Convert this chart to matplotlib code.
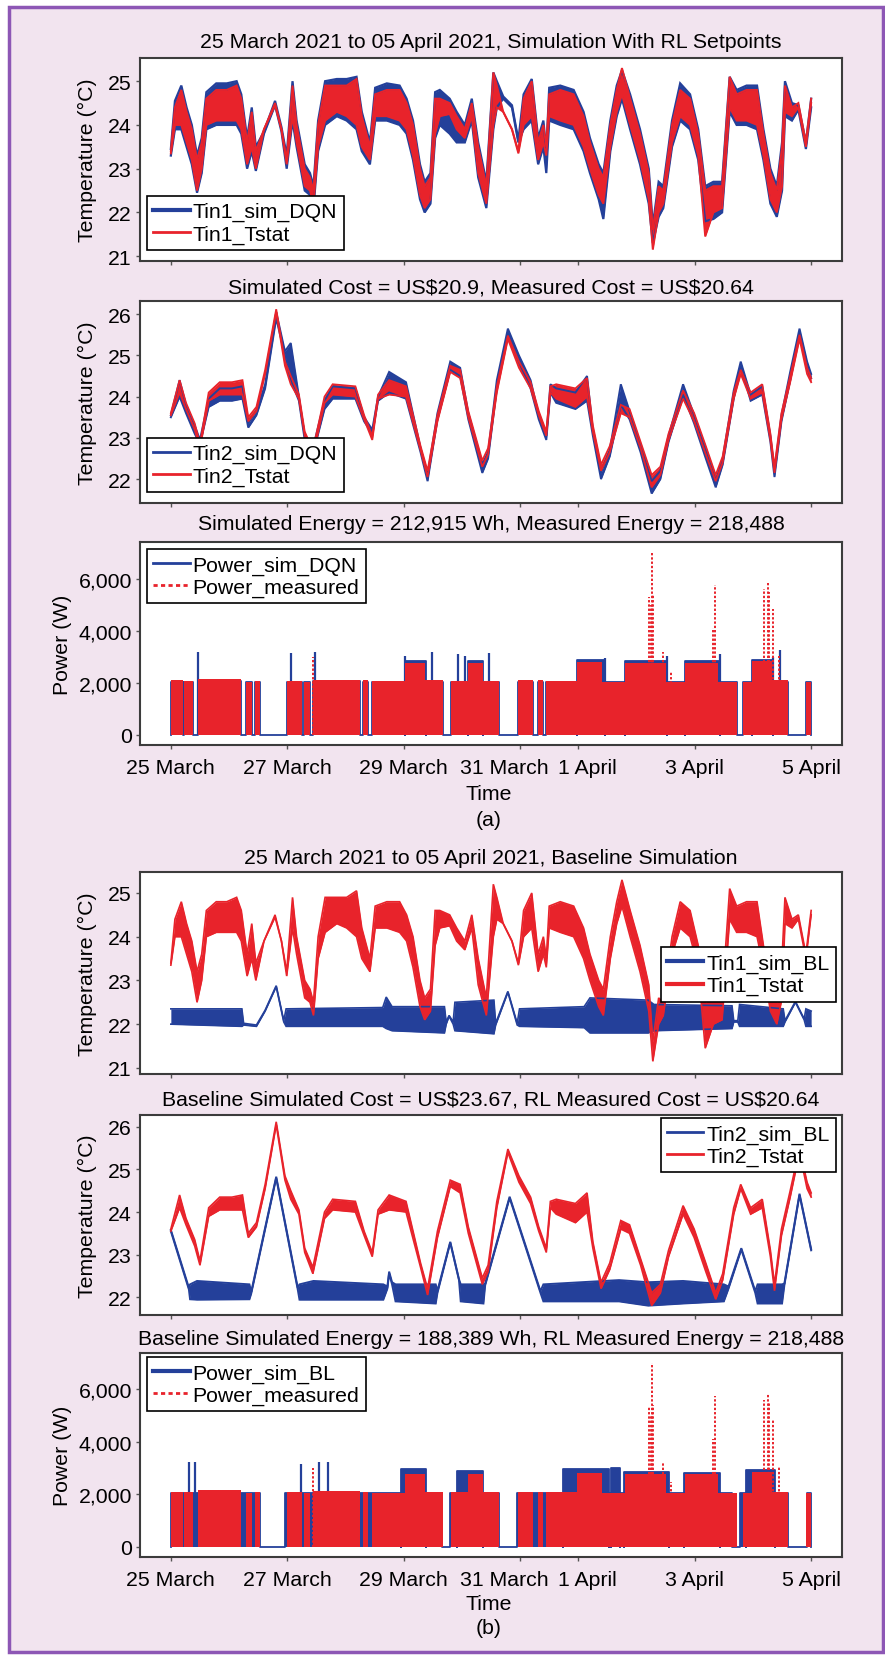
import numpy as np
import matplotlib
matplotlib.use("Agg")
import matplotlib.pyplot as plt
import matplotlib.transforms as mtransforms
from matplotlib.lines import Line2D
from matplotlib.patches import Rectangle

plt.rcParams["font.family"] = ["Liberation Sans", "DejaVu Sans"]
plt.rcParams["text.parse_math"] = False

BLUE = "#24409a"
RED = "#e8232b"
FS = 15.3

# time axis: days after 25 March 2021 00:00
tick_days = [0, 2, 4, 6, 7, 9, 11]
tick_labels = ["25 March", "27 March", "29 March", "31 March", "1 April", "3 April", "5 April"]

titles = [
    "25 March 2021 to 05 April 2021, Simulation With RL Setpoints",
    "Simulated Cost = US$20.9, Measured Cost = US$20.64",
    "Simulated Energy = 212,915 Wh, Measured Energy = 218,488",
    "25 March 2021 to 05 April 2021, Baseline Simulation",
    "Baseline Simulated Cost = US$23.67, RL Measured Cost = US$20.64",
    "Baseline Simulated Energy = 188,389 Wh, RL Measured Energy = 218,488",
]

# zone 1 temperature (envelope of the fast thermostat cycling, low / high)
t_tin1 = [0.00, 0.07, 0.18, 0.27, 0.36, 0.45, 0.53, 0.61, 0.78, 0.96,
          1.13, 1.21, 1.31, 1.39, 1.46, 1.60, 1.79, 1.90, 1.99, 2.09,
          2.16, 2.30, 2.39, 2.45, 2.53, 2.65, 2.85, 3.02, 3.19, 3.28,
          3.42, 3.51, 3.71, 3.93, 4.05, 4.16, 4.28, 4.36, 4.46, 4.54,
          4.62, 4.79, 4.91, 5.05, 5.17, 5.28, 5.42, 5.54, 5.60, 5.71,
          5.86, 5.97, 6.06, 6.20, 6.31, 6.40, 6.45, 6.50, 6.69, 6.92,
          7.09, 7.20, 7.35, 7.43, 7.55, 7.66, 7.75, 7.89, 8.06, 8.21,
          8.28, 8.38, 8.46, 8.61, 8.75, 8.92, 9.06, 9.18, 9.32, 9.47,
          9.60, 9.72, 9.89, 10.07, 10.18, 10.30, 10.41, 10.50, 10.55, 10.67,
          10.78, 10.91, 11.00]
tin1_tstat_lo = [23.35, 24.00, 24.00, 23.60, 23.20, 22.50, 23.00, 24.00, 24.10, 24.10,
                 24.10, 23.90, 23.10, 23.50, 23.00, 23.90, 24.45, 23.90, 23.10, 24.20,
                 23.60, 22.60, 22.50, 22.20, 23.50, 24.10, 24.30, 24.20, 24.00, 23.50,
                 23.20, 24.20, 24.20, 24.10, 23.90, 23.30, 22.40, 22.10, 22.30, 23.80,
                 24.20, 24.25, 23.90, 23.70, 24.20, 22.90, 22.20, 24.00, 24.40, 24.30,
                 23.90, 23.35, 24.00, 24.20, 23.20, 23.60, 23.30, 24.20, 24.10, 24.00,
                 23.50, 23.00, 22.40, 22.20, 23.50, 24.30, 24.70, 24.00, 23.20, 22.30,
                 21.15, 22.00, 22.20, 23.60, 24.20, 24.00, 23.30, 21.45, 22.00, 22.10,
                 24.40, 24.10, 24.10, 24.00, 23.30, 22.30, 22.00, 22.60, 24.30, 24.20,
                 24.40, 23.50, 24.50]
tin1_tstat_hi = [23.40, 24.40, 24.80, 24.30, 23.90, 23.20, 23.60, 24.60, 24.80, 24.80,
                 24.90, 24.60, 23.60, 24.30, 23.40, 23.90, 24.50, 23.90, 23.20, 24.90,
                 24.00, 23.00, 22.80, 22.50, 24.00, 24.90, 24.90, 24.90, 25.05, 24.20,
                 23.50, 24.70, 24.80, 24.80, 24.50, 24.00, 23.00, 22.60, 22.80, 24.60,
                 24.60, 24.50, 24.20, 23.90, 24.50, 23.50, 22.60, 25.20, 24.90, 24.30,
                 23.90, 23.40, 24.60, 25.00, 23.60, 24.00, 23.50, 24.70, 24.80, 24.70,
                 24.20, 23.60, 23.00, 22.80, 24.00, 24.80, 25.30, 24.60, 23.80, 22.90,
                 21.60, 22.60, 22.50, 24.00, 24.80, 24.60, 23.80, 22.50, 22.60, 22.60,
                 25.10, 24.70, 24.80, 24.80, 23.80, 22.90, 22.50, 23.50, 24.90, 24.40,
                 24.50, 23.60, 24.60]
tin1_dqn_lo = [23.30, 23.90, 23.90, 23.50, 23.10, 22.45, 22.90, 23.90, 24.00, 24.00,
               24.00, 23.80, 23.00, 23.40, 22.95, 23.80, 24.45, 23.85, 23.00, 24.10,
               23.50, 22.50, 22.40, 22.10, 23.40, 24.00, 24.20, 24.10, 23.90, 23.40,
               23.10, 24.10, 24.10, 24.00, 23.80, 23.20, 22.30, 22.00, 22.20, 23.70,
               24.00, 23.80, 23.60, 23.60, 24.10, 22.80, 22.10, 23.90, 24.40, 24.60,
               24.40, 23.60, 23.90, 24.10, 23.10, 23.50, 22.90, 24.10, 24.00, 23.90,
               23.40, 22.90, 22.30, 21.85, 23.40, 24.20, 24.60, 23.90, 23.10, 22.20,
               21.30, 21.90, 22.10, 23.50, 24.10, 23.90, 23.20, 21.80, 21.85, 22.00,
               24.30, 24.00, 24.00, 23.90, 23.20, 22.20, 21.90, 22.50, 24.20, 24.10,
               24.35, 23.45, 24.40]
tin1_dqn_hi = [23.45, 24.55, 24.90, 24.40, 24.00, 23.30, 23.70, 24.75, 24.95, 24.95,
               25.00, 24.70, 23.70, 24.40, 23.50, 23.85, 24.55, 23.95, 23.30, 25.00,
               24.10, 23.10, 22.90, 22.60, 24.10, 25.00, 25.05, 25.05, 25.10, 24.30,
               23.60, 24.85, 24.95, 24.90, 24.60, 24.10, 23.10, 22.70, 22.90, 24.75,
               24.80, 24.60, 24.30, 24.00, 24.60, 23.60, 22.70, 25.20, 25.00, 24.65,
               24.45, 23.65, 24.70, 25.05, 23.70, 24.10, 23.40, 24.85, 24.90, 24.80,
               24.30, 23.70, 23.10, 22.90, 24.10, 24.90, 25.25, 24.70, 23.90, 23.00,
               21.70, 22.70, 22.60, 24.10, 24.95, 24.70, 23.90, 22.60, 22.70, 22.70,
               25.10, 24.80, 24.90, 24.90, 23.90, 23.00, 22.60, 23.60, 25.00, 24.50,
               24.45, 23.60, 24.60]

# zone 2 temperature
t_tin2 = [0.00, 0.15, 0.26, 0.41, 0.50, 0.65, 0.84, 1.05, 1.23, 1.33,
          1.47, 1.62, 1.81, 1.96, 2.06, 2.20, 2.30, 2.44, 2.64, 2.78,
          3.17, 3.32, 3.46, 3.56, 3.75, 4.04, 4.29, 4.41, 4.58, 4.80,
          4.97, 5.11, 5.35, 5.45, 5.60, 5.79, 5.98, 6.18, 6.32, 6.45,
          6.52, 6.62, 6.95, 7.15, 7.25, 7.39, 7.54, 7.73, 7.88, 8.07,
          8.26, 8.41, 8.55, 8.80, 8.99, 9.19, 9.36, 9.48, 9.67, 9.79,
          9.96, 10.16, 10.30, 10.37, 10.49, 10.64, 10.80, 10.93, 11.00]
tin2_tstat_lo = [23.55, 24.10, 23.70, 23.20, 22.75, 23.90, 24.05, 24.05, 24.05, 23.40,
                 23.65, 24.55, 26.05, 24.75, 24.30, 23.95, 23.05, 22.55, 23.85, 24.05,
                 24.00, 23.45, 22.95, 23.95, 24.05, 24.00, 22.70, 22.05, 23.40, 24.60,
                 24.45, 23.50, 22.30, 22.60, 24.10, 25.40, 24.70, 24.20, 23.55, 23.05,
                 24.10, 23.95, 23.75, 24.00, 23.15, 22.20, 22.65, 23.60, 23.50, 22.75,
                 21.80, 22.10, 22.95, 23.95, 23.40, 22.60, 21.95, 22.40, 23.95, 24.55,
                 23.95, 24.10, 22.95, 22.15, 23.45, 24.35, 25.40, 24.55, 24.35]
tin2_tstat_hi = [23.60, 24.40, 23.85, 23.35, 22.85, 24.10, 24.35, 24.35, 24.40, 23.50,
                 23.75, 24.65, 26.12, 24.85, 24.50, 24.05, 23.15, 22.70, 24.00, 24.30,
                 24.25, 23.55, 23.05, 24.05, 24.40, 24.25, 22.80, 22.20, 23.55, 24.75,
                 24.65, 23.65, 22.45, 22.75, 24.25, 25.48, 24.85, 24.35, 23.65, 23.15,
                 24.25, 24.30, 24.20, 24.45, 23.30, 22.35, 22.80, 23.80, 23.70, 22.90,
                 22.10, 22.30, 23.10, 24.15, 23.60, 22.80, 22.10, 22.55, 24.10, 24.65,
                 24.10, 24.30, 23.10, 22.30, 23.60, 24.50, 25.50, 24.70, 24.45]
tin2_dqn_lo = [23.50, 24.00, 23.60, 23.10, 22.85, 23.75, 23.90, 23.90, 23.95, 23.25,
               23.55, 24.20, 25.90, 25.00, 24.40, 23.90, 22.95, 22.60, 23.70, 23.95,
               23.95, 23.40, 23.10, 23.90, 24.10, 23.95, 22.65, 21.95, 23.45, 24.65,
               24.50, 23.45, 22.15, 22.50, 24.20, 25.55, 24.85, 24.20, 23.45, 22.95,
               24.10, 23.85, 23.70, 23.90, 23.05, 22.00, 22.55, 23.80, 23.45, 22.65,
               21.65, 22.00, 22.90, 24.05, 23.35, 22.50, 21.80, 22.35, 23.95, 24.75,
               23.90, 24.05, 22.90, 22.05, 23.40, 24.40, 25.55, 24.70, 24.45]
tin2_dqn_hi = [23.55, 24.40, 23.80, 23.30, 22.95, 23.95, 24.20, 24.20, 24.25, 23.35,
               23.65, 24.30, 26.05, 25.10, 25.30, 24.00, 23.05, 22.75, 23.90, 24.25,
               24.20, 23.50, 23.20, 24.00, 24.60, 24.35, 22.75, 22.10, 23.60, 24.85,
               24.70, 23.60, 22.35, 22.65, 24.40, 25.65, 25.00, 24.40, 23.55, 23.05,
               24.30, 24.20, 24.10, 24.50, 23.20, 22.15, 22.70, 24.30, 23.65, 22.80,
               21.95, 22.20, 23.05, 24.30, 23.55, 22.70, 21.95, 22.50, 24.15, 24.85,
               24.05, 24.25, 23.05, 22.20, 23.55, 24.60, 25.65, 24.85, 24.55]

# baseline simulation temperatures
t_tin1_bl = [0.00, 1.22, 1.25, 1.47, 1.62, 1.81, 1.94, 1.98, 3.64, 3.70,
             3.80, 4.70, 4.73, 4.78, 4.85, 4.88, 5.55, 5.58, 5.79, 5.95,
             5.99, 7.10, 7.20, 8.20, 8.30, 9.64, 9.67, 9.74, 9.77, 10.52,
             10.55, 10.73, 10.88, 10.91, 11.00]
tin1_bl_lo = [22.00, 21.95, 21.98, 21.95, 22.30, 22.86, 22.05, 21.95, 21.95, 21.90,
              21.85, 21.80, 22.00, 22.18, 22.00, 21.85, 21.78, 21.98, 22.73, 21.98,
              21.95, 21.92, 21.80, 21.80, 21.85, 21.90, 22.05, 22.05, 21.95, 21.95,
              22.05, 22.50, 22.10, 21.95, 21.95]
tin1_bl_hi = [22.35, 22.35, 22.02, 21.98, 22.32, 22.88, 22.08, 22.35, 22.38, 22.62,
              22.40, 22.40, 22.05, 22.20, 22.05, 22.50, 22.55, 22.02, 22.75, 22.02,
              22.35, 22.40, 22.60, 22.55, 22.45, 22.42, 22.08, 22.08, 22.45, 22.35,
              22.08, 22.52, 22.12, 22.35, 22.30]

t_tin2_bl = [0.00, 0.31, 0.33, 0.45, 1.35, 1.38, 1.81, 2.18, 2.21, 2.45,
             3.65, 3.72, 3.75, 3.80, 3.86, 4.55, 4.58, 4.80, 4.95, 4.98,
             5.37, 5.40, 5.82, 6.35, 6.40, 7.70, 8.20, 8.80, 9.50, 9.58,
             9.80, 10.04, 10.08, 10.50, 10.54, 10.80, 11.00]
tin2_bl_lo = [23.55, 22.18, 21.95, 21.94, 21.95, 22.08, 24.80, 22.18, 21.94, 21.94,
              21.94, 22.20, 22.56, 22.30, 21.90, 21.85, 22.10, 23.28, 22.40, 21.90,
              21.85, 22.28, 24.33, 22.10, 21.90, 21.90, 21.80, 21.85, 21.90, 22.20,
              23.12, 22.10, 21.85, 21.85, 22.28, 24.40, 23.10]
tin2_bl_hi = [23.58, 22.22, 22.30, 22.38, 22.30, 22.12, 24.83, 22.22, 22.30, 22.38,
              22.30, 22.25, 22.60, 22.35, 22.30, 22.30, 22.15, 23.30, 22.42, 22.30,
              22.30, 22.32, 24.36, 22.14, 22.30, 22.40, 22.35, 22.38, 22.30, 22.25,
              23.15, 22.14, 22.30, 22.30, 22.32, 24.43, 23.13]

# power: on-periods (start day, end day, level W)
meas_start = [0.00, 0.23, 0.47, 1.29, 1.44, 1.99, 2.29, 2.45, 3.30, 3.45,
              4.03, 4.36, 4.82, 5.11, 5.37, 5.97, 6.30, 6.45, 6.97, 7.40,
              7.80, 8.50, 8.83, 9.40, 9.83, 9.98, 10.33, 10.91]
meas_end = [0.21, 0.38, 1.21, 1.39, 1.54, 2.26, 2.39, 3.25, 3.39, 4.02,
            4.36, 4.68, 5.11, 5.37, 5.64, 6.23, 6.39, 6.97, 7.40, 7.80,
            8.50, 8.83, 9.40, 9.72, 9.98, 10.33, 10.61, 11.00]
meas_level = [2100, 2080, 2150, 2050, 2080, 2080, 2050, 2120, 2100, 2060,
              2780, 2100, 2080, 2780, 2080, 2100, 2100, 2080, 2820, 2050,
              2780, 2050, 2780, 2050, 2050, 2850, 2100, 2050]
meas_spike_t = [2.45, 8.22, 8.25, 8.27, 8.29, 8.46, 8.60, 9.31, 9.35, 10.19, 10.26, 10.28, 10.35, 10.44]
meas_spike_p = [3000, 5300, 5000, 7000, 5400, 3180, 2470, 4100, 5750, 5600, 5850, 5500, 4850, 3050]

dqn_start = [0.00, 0.23, 0.47, 1.29, 1.44, 1.99, 2.29, 2.45, 3.30, 3.45,
             4.03, 4.39, 4.82, 5.11, 5.37, 5.97, 6.30, 6.45, 6.97, 7.46,
             7.80, 8.52, 8.83, 9.44, 9.83, 9.98, 10.35, 10.91]
dqn_end = [0.21, 0.38, 1.21, 1.39, 1.54, 2.26, 2.39, 3.25, 3.39, 4.03,
           4.39, 4.68, 5.11, 5.37, 5.64, 6.23, 6.39, 6.97, 7.46, 7.80,
           8.52, 8.83, 9.44, 9.72, 9.98, 10.35, 10.61, 11.00]
dqn_level = [2050, 2050, 2080, 2020, 2050, 2050, 2020, 2080, 2050, 2030,
             2850, 2050, 2050, 2830, 2050, 2050, 2050, 2050, 2900, 2030,
             2850, 2030, 2830, 2030, 2030, 2900, 2050, 2030]
dqn_spike_t = [0.47, 2.06, 2.47, 4.03, 4.48, 4.94, 5.05, 5.47, 7.45, 8.52, 9.44, 10.35, 10.46]
dqn_spike_p = [3200, 3150, 3200, 3050, 3200, 3100, 3050, 3150, 2950, 3050, 3100, 3000, 3270]

bl_start = [0.00, 1.96, 3.95, 4.39, 4.79, 4.91, 5.37, 5.94, 6.73, 7.52,
            7.57, 7.72, 7.78, 8.55, 8.82, 9.44, 9.78, 9.88, 10.38, 10.93]
bl_end = [1.53, 3.95, 4.39, 4.65, 4.91, 5.37, 5.64, 6.73, 7.52, 7.57,
          7.72, 7.78, 8.55, 8.82, 9.44, 9.64, 9.88, 10.38, 10.61, 11.00]
bl_level = [2050, 2050, 2950, 2050, 2050, 2900, 2050, 2050, 2950, 2050,
            3000, 2050, 2850, 2050, 2820, 2050, 2050, 2920, 2050, 2050]
bl_spike_t = [0.31, 0.41, 2.23, 2.54, 2.70]
bl_spike_p = [3215, 3215, 3150, 3215, 3240]


W, H = 885, 1656
fig = plt.figure(figsize=(W / 100, H / 100), dpi=100, facecolor="white")
fig.add_artist(Rectangle((9 / W, 1 - 1653 / H), 874 / W, 1645 / H, transform=fig.transFigure,
                         facecolor="#f2e4ef", edgecolor="#8d57b5", lw=2.5, zorder=-10))


def add_ax(top, bottom):
    ax = fig.add_axes([140 / W, 1 - bottom / H, 702 / W, (bottom - top) / H])
    ax.set_facecolor("white")
    for s in ax.spines.values():
        s.set_color("#3c3c3c")
        s.set_linewidth(1.5)
    ax.set_xlim(-0.53, 11.53)
    ax.set_xticks(tick_days)
    ax.tick_params(axis="x", length=3, width=1, color="#555555", pad=6.5, labelsize=FS)
    ax.tick_params(axis="y", length=3, width=1, color="#555555", pad=2.9, labelsize=FS)
    return ax


def band(ax, t, lo, hi, color, lw):
    ax.fill_between(t, lo, hi, color=color, lw=0)
    ax.plot(t, lo, color=color, lw=lw, solid_joinstyle="miter")
    ax.plot(t, hi, color=color, lw=lw, solid_joinstyle="miter")


def step_path(starts, ends, levels):
    ts, ps = [0.0], [0.0]
    for a, b, v in zip(starts, ends, levels):
        ts += [a, a, b, b]
        ps += [0, v, v, 0]
    ts.append(11.0)
    ps.append(0.0)
    return np.array(ts), np.array(ps)


def nudge_dates(ax):
    # the "31 March" and "1 April" labels are pushed apart in the original
    labs = ax.get_xticklabels()
    for i, dx in [(3, -16), (4, 9)]:
        labs[i].set_transform(labs[i].get_transform()
                              + mtransforms.ScaledTranslation(dx / 100, 0, fig.dpi_scale_trans))


def power_panel(ax, s_start, s_end, s_level, s_spt, s_spp):
    ts, ps = step_path(s_start, s_end, s_level)
    ax.fill_between(ts, 0, ps, color=BLUE, lw=0, zorder=1)
    ax.plot(ts, ps, color=BLUE, lw=1.3, zorder=1)
    ax.vlines(s_spt, 0, s_spp, color=BLUE, lw=1.6, zorder=1)
    tm, pm = step_path(meas_start, meas_end, meas_level)
    ax.fill_between(tm, 0, pm, color=RED, lw=0, zorder=2)
    ax.vlines(meas_spike_t, 0, meas_spike_p, color=RED, lw=1.4,
              linestyles=(0, (1.2, 1.0)), zorder=3)
    ax.set_yticks([0, 2000, 4000, 6000])
    ax.set_yticklabels([f"{v:,}" for v in [0, 2000, 4000, 6000]])
    ax.set_xticklabels(tick_labels)
    nudge_dates(ax)


def legend(ax, labels, blue_lw, red_lw, red_dotted, loc, anchor):
    hs = [Line2D([], [], color=BLUE, lw=blue_lw),
          Line2D([], [], color=RED, lw=red_lw, ls=(0, (1.5, 1.2)) if red_dotted else "-")]
    lg = ax.legend(hs, labels, loc=loc, bbox_to_anchor=anchor, fontsize=FS, fancybox=False,
                   framealpha=1, edgecolor="black", handlelength=1.7, handletextpad=0.15,
                   labelspacing=0.15, borderpad=0.3, borderaxespad=0)
    lg.get_frame().set_linewidth(1.2)


def ylabel(x, top, bottom, text):
    fig.text(x / W, 1 - (top + bottom) / 2 / H, text, rotation=90, ha="center", va="center",
             fontsize=FS)


title_base = [48.5, 293.5, 529.5, 863.5, 1105.5, 1345.5]
for txt, yb in zip(titles, title_base):
    fig.text(491 / W, 1 - yb / H, txt, ha="center", va="baseline", fontsize=FS)

# (a) RL setpoints
ax1 = add_ax(59, 262)
band(ax1, t_tin1, tin1_dqn_lo, tin1_dqn_hi, BLUE, 1.6)
band(ax1, t_tin1, tin1_tstat_lo, tin1_tstat_hi, RED, 1.4)
ax1.set_ylim(20.89, 25.53)
ax1.set_yticks([21, 22, 23, 24, 25])
ax1.set_xticklabels([])
legend(ax1, ["Tin1_sim_DQN", "Tin1_Tstat"], 3, 2, False, "lower left", (7 / 702, 11 / 203))
ylabel(87, 59, 262, "Temperature (°C)")

ax2 = add_ax(302, 504)
band(ax2, t_tin2, tin2_dqn_lo, tin2_dqn_hi, BLUE, 1.4)
band(ax2, t_tin2, tin2_tstat_lo, tin2_tstat_hi, RED, 1.3)
ax2.set_ylim(21.42, 26.32)
ax2.set_yticks([22, 23, 24, 25, 26])
ax2.set_xticklabels([])
legend(ax2, ["Tin2_sim_DQN", "Tin2_Tstat"], 2, 2, False, "lower left", (7 / 702, 11 / 202))
ylabel(87, 302, 504, "Temperature (°C)")

ax3 = add_ax(543, 746)
power_panel(ax3, dqn_start, dqn_end, dqn_level, dqn_spike_t, dqn_spike_p)
ax3.set_ylim(-385, 7423)
legend(ax3, ["Power_sim_DQN", "Power_measured"], 2, 2, True, "upper left", (7 / 702, 1 - 7 / 203))
ylabel(63, 543, 746, "Power (W)")
fig.text(489 / W, 1 - 800 / H, "Time", ha="center", va="baseline", fontsize=FS)
fig.text(489 / W, 1 - 826 / H, "(a)", ha="center", va="baseline", fontsize=FS)

# (b) baseline
ax4 = add_ax(873, 1075)
band(ax4, t_tin1_bl, tin1_bl_lo, tin1_bl_hi, BLUE, 1.2)
band(ax4, t_tin1, tin1_tstat_lo, tin1_tstat_hi, RED, 1.2)
ax4.set_ylim(20.86, 25.48)
ax4.set_yticks([21, 22, 23, 24, 25])
ax4.set_xticklabels([])
legend(ax4, ["Tin1_sim_BL", "Tin1_Tstat"], 3, 3, False, "center right",
       (1 - 6 / 702, (1075 - 975.5) / 202))
ylabel(87, 873, 1075, "Temperature (°C)")

ax5 = add_ax(1116, 1316)
band(ax5, t_tin2_bl, tin2_bl_lo, tin2_bl_hi, BLUE, 1.4)
band(ax5, t_tin2, tin2_tstat_lo, tin2_tstat_hi, RED, 1.2)
ax5.set_ylim(21.58, 26.28)
ax5.set_yticks([22, 23, 24, 25, 26])
ax5.set_xticklabels([])
legend(ax5, ["Tin2_sim_BL", "Tin2_Tstat"], 2, 2, False, "upper right", (1 - 6 / 702, 1 - 3 / 200))
ylabel(87, 1116, 1316, "Temperature (°C)")

ax6 = add_ax(1354, 1558)
power_panel(ax6, bl_start, bl_end, bl_level, bl_spike_t, bl_spike_p)
ax6.set_ylim(-380, 7368)
legend(ax6, ["Power_sim_BL", "Power_measured"], 3, 2, True, "upper left", (7 / 702, 1 - 4 / 204))
ylabel(63, 1354, 1558, "Power (W)")
fig.text(489 / W, 1 - 1610 / H, "Time", ha="center", va="baseline", fontsize=FS)
fig.text(489 / W, 1 - 1634 / H, "(b)", ha="center", va="baseline", fontsize=FS)

fig.savefig("out.png", dpi=100)
